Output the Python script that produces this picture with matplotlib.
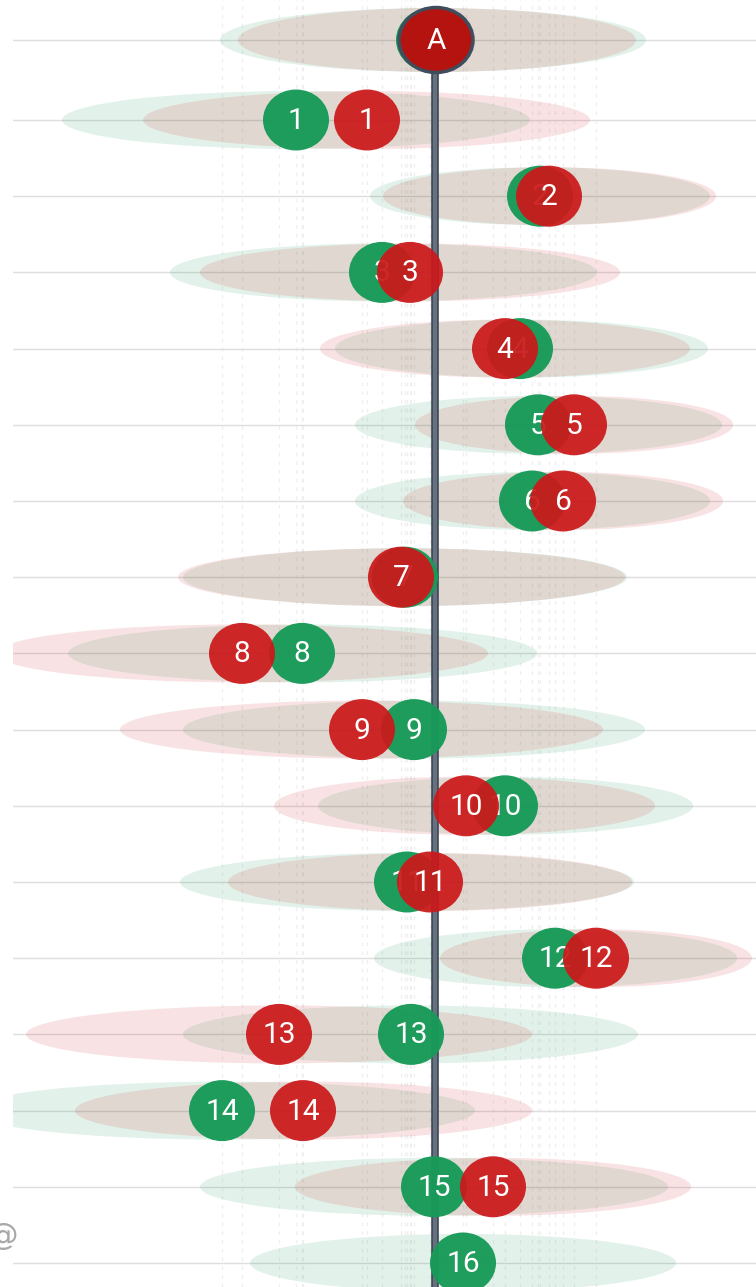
import matplotlib.pyplot as plt
from matplotlib.patches import Ellipse

# rows from top to bottom: "A" is the reference row, then 1..16
labels = ["A", "1", "2", "3", "4", "5", "6", "7", "8", "9", "10",
          "11", "12", "13", "14", "15", "16"]

# circle positions (x) of the green and red series; None = no marker
green_x = [433, 296, 540, 382, 520, 538, 532, 405, 302, 414, 505,
           407, 555, 411, 222, 434, 463]
red_x = [436, 367, 549, 410, 505, 574, 563, 401, 242, 362, 466,
         430, 596, 279, 303, 493, None]

# spread of each series (left / right end of the ellipse)
green_lo = [220, 62, 370, 170, 335, 355, 355, 183, 68, 183, 318,
            180, 374, 183, -31, 200, 250]
green_hi = [646, 530, 710, 597, 708, 722, 710, 627, 537, 645, 693,
            634, 737, 638, 475, 668, 676]
red_lo = [238, 143, 383, 200, 320, 415, 403, 178, -4, 120, 274,
          228, 440, 26, 75, 295, None]
red_hi = [636, 590, 716, 620, 690, 733, 723, 625, 488, 603, 655,
          632, 752, 532, 532, 691, None]

ref_x = 435

GREEN = "#189a58"
RED = "#cb181a"


def row_y(i):
    '''
    Vertical pixel position of row i (row 0 is the reference row).
    '''
    if i == 0:
        return 40
    return 120 + (i - 1) * 76.2


def main():
    '''
    Draw the ellipse / circle ranking chart and save it to out.png.
    '''
    fig = plt.figure(figsize=(7.56, 12.87), dpi=100)
    ax = fig.add_axes([13 / 756, 0, 1 - 13 / 756, 1])
    ax.set_xlim(13, 756)
    ax.set_ylim(1287, 0)
    ax.axis("off")

    n = len(labels)
    ys = [row_y(i) for i in range(n)]

    # faint dashed verticals at every marker position
    for x in green_x + red_x:
        if x is not None:
            ax.axvline(x, color="#efefef", lw=0.9, ls=(0, (3, 4)), zorder=0)

    # horizontal row lines
    for y in ys:
        ax.axhline(y, color="#dedede", lw=1, zorder=1)

    # spread ellipses
    for i, y in enumerate(ys):
        h = 64 if i == 0 else 58
        lo, hi = green_lo[i], green_hi[i]
        ax.add_patch(Ellipse(((lo + hi) / 2, y), hi - lo, h,
                             color=GREEN, alpha=0.12, lw=0, zorder=2))
        if red_lo[i] is not None:
            lo, hi = red_lo[i], red_hi[i]
            ax.add_patch(Ellipse(((lo + hi) / 2, y), hi - lo, h,
                                 color=RED, alpha=0.12, lw=0, zorder=2))

    # reference line
    ax.plot([ref_x, ref_x], [ys[0], 1287], color="#3f4a58", lw=5.5,
            zorder=3, solid_capstyle="butt")
    ax.plot([ref_x, ref_x], [ys[0], 1287], color="#66707e", lw=3,
            zorder=3, solid_capstyle="butt")

    # circles with labels
    for i, y in enumerate(ys):
        for xs, col, alpha, z in ((green_x, GREEN, 0.97, 4),
                                  (red_x, RED, 0.93, 6)):
            x = xs[i]
            if x is None:
                continue
            if i == 0:
                if col == RED:
                    ax.add_patch(Ellipse((x, y), 74, 65,
                                         facecolor="#b5130f",
                                         edgecolor="#3f4d5c",
                                         lw=2.5, zorder=z))
                else:
                    ax.add_patch(Ellipse((x, y), 74, 65, color=GREEN,
                                         lw=0, zorder=z))
                    continue
            else:
                ax.add_patch(Ellipse((x, y), 66, 61, color=col,
                                     alpha=alpha, lw=0, zorder=z))
            ax.text(x, y + 1, labels[i], color="white", fontsize=21.5,
                    family="Roboto", ha="center", va="center",
                    zorder=z + 1)

    # cut-off watermark at the left edge
    fig.text(3 / 756, 1 - 1236 / 1287, "@", color="#a8a8a8", fontsize=22,
             ha="center", va="center")

    fig.savefig("out.png", dpi=100)


if __name__ == "__main__":
    main()
